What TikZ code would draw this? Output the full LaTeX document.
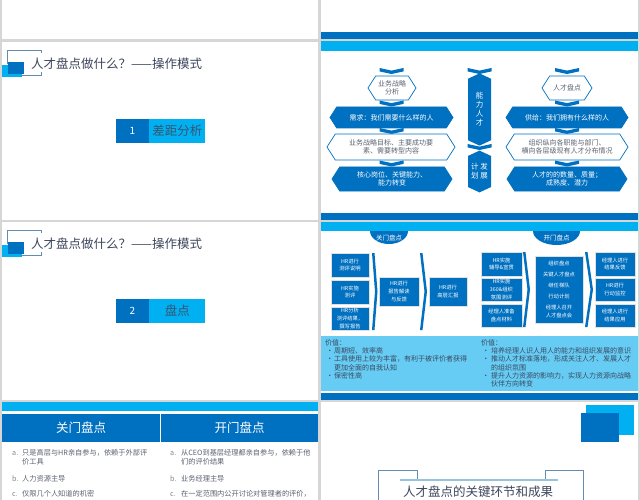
\documentclass[tikz,border=0pt]{standalone}
\usepackage{fontspec}
\setmainfont{Noto Sans CJK SC}
\usetikzlibrary{shapes.symbols,positioning}
\definecolor{pdark}{RGB}{0,112,192}
\definecolor{plight}{RGB}{0,176,240}
\definecolor{pvalue}{RGB}{102,204,244}
\definecolor{pgrey}{RGB}{214,214,214}
\definecolor{ptitle}{RGB}{60,70,92}
\definecolor{ptext}{RGB}{90,98,112}
\definecolor{pmark}{RGB}{130,136,146}
\definecolor{psect}{RGB}{58,84,116}
\definecolor{pvaltxt}{RGB}{58,72,96}
\definecolor{pframe}{RGB}{100,140,176}
\definecolor{pline}{RGB}{150,196,220}
\newcommand{\pfont}[2]{\fontsize{#1}{#2}\selectfont}
% small downward chevron: centre x, top y
\newcommand{\chevdown}[2]{\fill[pdark] ({#1-12},#2) -- (#1,{#2+2.6}) -- ({#1+12},#2)
  -- ({#1+12},{#2+3.4}) -- (#1,{#2+6}) -- ({#1-12},{#2+3.4}) -- cycle;}

\begin{document}
\begin{tikzpicture}[x=1pt,y=-1pt,
  hexw/.style={signal,signal to=east and west,signal pointer angle=115,
    draw=pdark,line width=0.7pt,fill=white,text=ptext,align=center,
    inner sep=0pt,font=\pfont{7}{8.6}},
  hexd/.style={hexw,fill=pdark,text=white},
  vhex/.style={signal,signal to=north and south,signal pointer angle=130,
    fill=pdark,text=white,align=center,inner sep=0pt,minimum width=23pt,
    font=\pfont{7.5}{9}},
  stepbox/.style={rectangle,fill=pdark,draw=black!12,line width=0.5pt,text=white,
    align=center,inner sep=0pt,font=\pfont{5.3}{7.8}},
  capnode/.style={text=white,inner sep=0pt,font=\pfont{6.5}{8}},
  titletext/.style={anchor=west,inner sep=0pt,text=ptitle,font=\pfont{12.5}{14}},
  sectnum/.style={fill=pdark,text=white,minimum width=33pt,minimum height=24pt,
    inner sep=0pt,font=\pfont{10}{12}},
  sectlbl/.style={fill=plight,text=psect,minimum width=56pt,minimum height=24pt,
    inner sep=0pt,font=\pfont{12.5}{14}},
  valtext/.style={anchor=north west,align=left,text=pvaltxt,inner sep=0pt,
    font=\pfont{7}{8.2}},
  rowtext/.style={anchor=north west,align=left,text=ptext,inner sep=0pt,
    font=\pfont{7.2}{9}},
  headcell/.style={fill=pdark,text=white,minimum height=28pt,inner sep=0pt,
    font=\pfont{12.5}{14}}]
\useasboundingbox (0,0) rectangle (640,500);
\fill[pgrey] (0,0) rectangle (640,500);
% slides
\foreach \ya/\yb in {0/39,42/220,222/400,402/500}
  \fill[white] (2,\ya) rectangle (318,\yb);
\foreach \ya/\yb in {0/39,41/220,222/400,402/500}
  \fill[white] (321,\ya) rectangle (638,\yb);

% left column: section slides
\foreach \dy/\sn/\lbl in {0/1/差距分析,180/2/盘点}{
  \begin{scope}[shift={(0,\dy)}]
    \draw[pframe,line width=0.6pt] (41,53) -- (41,50) -- (7,50) -- (7,64);
    \draw[pframe,line width=0.6pt] (20,75) -- (41,75) -- (41,72);
    \fill[plight] (2,65) rectangle (22,77);
    \fill[pdark] (8,62) rectangle (24,74);
    \node[titletext] (title\sn) at (31,64) {人才盘点做什么？——操作模式};
    \node[sectnum] (num\sn) at (132.5,131) {\sn};
    \node[sectlbl,right=0pt of num\sn] (sect\sn) {\lbl};
  \end{scope}
}

% right column, row 1 and 2
\fill[pdark] (321,32) rectangle (638,39);
\fill[plight] (321,41) rectangle (638,51);
\fill[pdark] (321,213) rectangle (638,220);

\chevdown{391.5}{68}
\node[hexw,minimum width=48pt,minimum height=24pt] (need0) at (392,88) {业务战略\\分析};
\chevdown{391.5}{100.5}
\node[hexd,minimum width=123pt,minimum height=21pt] (need1) at (391.5,117.5) {需求：我们需要什么样的人};
\chevdown{391.5}{128}
\node[hexw,minimum width=128pt,minimum height=26pt] (need2) at (391,147) {业务战略目标、主要成功要\\素、需要转型内容};
\chevdown{391.5}{160.5}
\node[hexd,minimum width=120pt,minimum height=24pt] (need3) at (392,179) {核心岗位、关键能力、\\能力转变};

\chevdown{479.5}{68}
\node[vhex,minimum height=65pt] (talent) at (479.5,109.5) {能\\力\\人\\才};
\chevdown{479.5}{144}
\node[vhex,minimum height=39pt] (plan) at (479.5,171.5) {计\hspace{2pt}发\\划\hspace{2pt}展};

\chevdown{567}{68}
\node[hexw,minimum width=50pt,minimum height=24pt] (supply0) at (567,88) {人才盘点};
\chevdown{567}{100.5}
\node[hexd,minimum width=122pt,minimum height=21pt] (supply1) at (567,117.5) {供给：我们拥有什么样的人};
\chevdown{567}{128}
\node[hexw,minimum width=122pt,minimum height=26pt] (supply2) at (567,147) {组织纵向各职能与部门、\\横向各层级现有人才分布情况};
\chevdown{567}{160.5}
\node[hexd,minimum width=120pt,minimum height=24pt] (supply3) at (567,179) {人才的的数量、质量；\\成熟度、潜力};

% right column, row 3
\fill[plight] (321,222) rectangle (638,231);
\fill[pdark] (370,231) arc[start angle=180,end angle=0,x radius=19,y radius=13] -- cycle;
\node[capnode] (closeCap) at (389,237.5) {关门盘点};
\fill[pdark] (533,231) arc[start angle=180,end angle=0,x radius=23.5,y radius=14] -- cycle;
\node[capnode] (openCap) at (556.5,238) {开门盘点};

\node[stepbox,minimum width=38pt,minimum height=24pt] (c1) at (350,265) {HR进行\\测评说明};
\node[stepbox,minimum width=38pt,minimum height=24pt] (c2) at (350,292) {HR实施\\测评};
\node[stepbox,minimum width=38pt,minimum height=23pt] (c3) at (350,318.5) {HR分析\\测评结果，\\撰写报告};
\node[stepbox,minimum width=40pt,minimum height=29pt] (c4) at (399,291.5) {HR进行\\报告解读\\与反馈};
\node[stepbox,minimum width=38pt,minimum height=29pt] (c5) at (448,291.5) {HR进行\\高层汇报};
\fill[pdark] (372,253) -- (374.5,253) -- (377.5,291.5) -- (374.5,330) -- (372,330) -- (375,291.5) -- cycle;
\fill[pdark] (420,253) -- (422.5,253) -- (427,291.5) -- (422.5,330) -- (420,330) -- (424.5,291.5) -- cycle;

\node[stepbox,minimum width=41pt,minimum height=24pt] (o1) at (501.5,264) {HR实施\\辅导\&宣贯};
\node[stepbox,minimum width=41pt,minimum height=23pt] (o2) at (501.5,289.5) {HR实施\\360\&组织\\氛围测评};
\node[stepbox,minimum width=41pt,minimum height=23pt] (o3) at (501.5,315.5) {经理人准备\\盘点材料};
\node[stepbox,minimum width=48pt,minimum height=67pt] (o4) at (559,289.5)
  {组织盘点\\[3.3pt]关键人才盘点\\[3.3pt]继任梯队\\[3.3pt]行动计划\\[3.3pt]经理人召开\\人才盘点会};
\node[stepbox,minimum width=40pt,minimum height=24pt] (o5) at (615,264) {经理人进行\\结果反馈};
\node[stepbox,minimum width=40pt,minimum height=23pt] (o6) at (615,289.5) {HR进行\\行动监控};
\node[stepbox,minimum width=40pt,minimum height=23pt] (o7) at (615,315.5) {经理人进行\\结果应用};
\fill[pdark] (523,252) -- (525.5,252) -- (530,289.5) -- (525.5,327) -- (523,327) -- (527.5,289.5) -- cycle;
\fill[pdark] (585,252) -- (587.5,252) -- (593,289.5) -- (587.5,327) -- (585,327) -- (590.5,289.5) -- cycle;

\fill[pvalue] (321,336) rectangle (638,391);
\fill[pdark] (321,393) rectangle (638,400);
\node[valtext] (valClose) at (325,339.5) {价值：\\
  \makebox[9pt][l]{\,•}周期短、效率高\\
  \makebox[9pt][l]{\,•}工具使用上较为丰富，有利于被评价者获得\\
  \hspace*{9pt}更加全面的自我认知\\
  \makebox[9pt][l]{\,•}保密性高};
\node[valtext] (valOpen) at (481,339.5) {价值：\\
  \makebox[10pt][l]{\,•}培养经理人识人用人的能力和组织发展的意识\\
  \makebox[10pt][l]{\,•}推动人才标准落地，形成关注人才、发展人才\\
  \hspace*{10pt}的组织氛围\\
  \makebox[10pt][l]{\,•}提升人力资源的影响力，实现人力资源向战略\\
  \hspace*{10pt}伙伴方向转变};

% left column, row 4
\fill[plight] (2,402) rectangle (318,411);
\node[headcell,minimum width=158pt] (hdClose) at (81,428) {关门盘点};
\node[headcell,minimum width=157pt] (hdOpen) at (239.5,428) {开门盘点};
\node[rowtext] (itemsClose) at (12,449.5)
  {\makebox[10pt][l]{\textcolor{pmark}{a.}}只是高层与HR亲自参与，依赖于外部评\\
   \hspace*{10pt}价工具\\[7.5pt]
   \makebox[10pt][l]{\textcolor{pmark}{b.}}人力资源主导\\[6.5pt]
   \makebox[10pt][l]{\textcolor{pmark}{c.}}仅限几个人知道的机密};
\node[rowtext] (itemsOpen) at (170,449.5)
  {\makebox[11pt][l]{\textcolor{pmark}{a.}}从CEO到基层经理都亲自参与，依赖于他\\
   \hspace*{11pt}们的评价结果\\[7.5pt]
   \makebox[11pt][l]{\textcolor{pmark}{b.}}业务经理主导\\[6.5pt]
   \makebox[11pt][l]{\textcolor{pmark}{c.}}在一定范围内公开讨论对管理者的评价，};

% right column, row 4
\fill[plight] (586,405) rectangle (634,435);
\fill[pdark] (581,413) rectangle (619,442);
\draw[pframe,line width=0.7pt] (378,500) -- (378,470) -- (417,470) -- (417,480);
\draw[pframe,line width=0.7pt] (545,480) -- (545,470) -- (583,470) -- (583,500);
\draw[pline,line width=1.3pt] (400,480) -- (558,480);
\node[inner sep=0pt,text=ptitle,font=\pfont{12.5}{14}] (endTitle) at (478,491.5) {人才盘点的关键环节和成果};
\end{tikzpicture}
\end{document}
